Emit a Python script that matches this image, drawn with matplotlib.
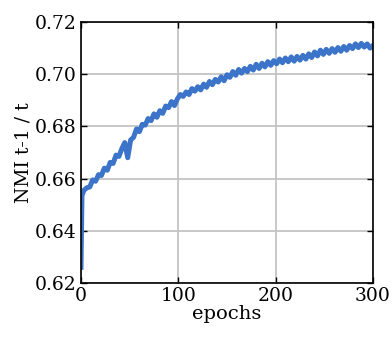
import matplotlib
matplotlib.use('Agg')
from matplotlib import pyplot as plt

# NMI between consecutive epochs
epochs = [0, 1, 3, 6, 9, 12, 15, 18, 21, 24, 27, 30, 33, 36, 39, 42, 45, 48, 51, 54,
          57, 60, 63, 66, 69, 72, 75, 78, 81, 84, 87, 90, 93, 96, 99, 102, 105, 108, 111, 114,
          117, 120, 123, 126, 129, 132, 135, 138, 141, 144, 147, 150, 153, 156, 159, 162, 165, 168, 171, 174,
          177, 180, 183, 186, 189, 192, 195, 198, 201, 204, 207, 210, 213, 216, 219, 222, 225, 228, 231, 234,
          237, 240, 243, 246, 249, 252, 255, 258, 261, 264, 267, 270, 273, 276, 279, 282, 285, 288, 291, 294,
          297, 300]
nmi = [0.6260, 0.6535, 0.6555, 0.6565, 0.6568, 0.6595, 0.6590, 0.6615, 0.6612, 0.6640, 0.6632, 0.6662, 0.6658, 0.6690, 0.6685, 0.6715, 0.6738, 0.6680, 0.6748, 0.6758,
       0.6790, 0.6780, 0.6808, 0.6805, 0.6830, 0.6822, 0.6848, 0.6835, 0.6860, 0.6850, 0.6878, 0.6872, 0.6895, 0.6880, 0.6905, 0.6922, 0.6915, 0.6932, 0.6922, 0.6945,
       0.6935, 0.6952, 0.6940, 0.6962, 0.6950, 0.6972, 0.6960, 0.6980, 0.6970, 0.6990, 0.6975, 0.6998, 0.6988, 0.7010, 0.6996, 0.7018, 0.7004, 0.7022, 0.7010, 0.7030,
       0.7016, 0.7038, 0.7022, 0.7042, 0.7028, 0.7048, 0.7034, 0.7052, 0.7040, 0.7058, 0.7044, 0.7062, 0.7048, 0.7066, 0.7050, 0.7068, 0.7054, 0.7072, 0.7058, 0.7078,
       0.7064, 0.7085, 0.7070, 0.7092, 0.7076, 0.7095, 0.7080, 0.7098, 0.7084, 0.7102, 0.7088, 0.7106, 0.7092, 0.7110, 0.7098, 0.7116, 0.7102, 0.7118, 0.7104, 0.7116,
       0.7100, 0.7110]

plt.rcParams['font.family'] = 'DejaVu Serif'
plt.rcParams['font.size'] = 13.5

fig = plt.figure(figsize=(3.92, 3.39), dpi=100)
ax = fig.add_axes([0.2066, 0.1652, 0.7449, 0.7699])
ax.plot(epochs, nmi, color='#3b74c8', linewidth=3.6, solid_joinstyle='round')

ax.set_xlim(0, 300)
ax.set_ylim(0.62, 0.72)
ax.set_xticks([0, 100, 200, 300])
ax.set_yticks([0.62, 0.64, 0.66, 0.68, 0.70, 0.72])
ax.set_yticklabels(['0.62', '0.64', '0.66', '0.68', '0.70', '0.72'])
ax.grid(True, color='#c4c4c4', linewidth=1.3)
ax.set_axisbelow(True)
ax.tick_params(direction='in', top=True, right=True, length=4, width=1, pad=3)
for s in ax.spines.values():
    s.set_linewidth(1.2)
ax.set_xlabel('epochs', fontsize=14, labelpad=0)
ax.set_ylabel('NMI t-1 / t', labelpad=2)

fig.savefig('out.png', dpi=100)
